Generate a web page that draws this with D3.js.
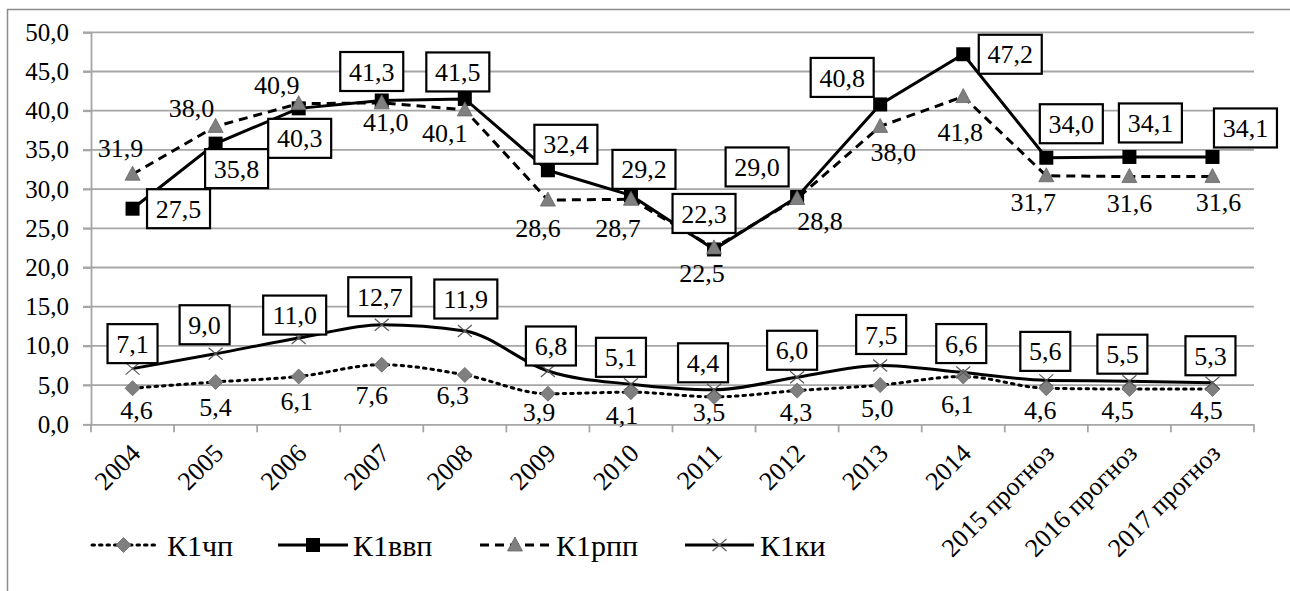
<!DOCTYPE html>
<html>
<head>
<meta charset="utf-8">
<script src="https://cdn.jsdelivr.net/npm/d3@7"></script>
</head>
<body style="margin:0;background:#fff">
<svg id="chart" width="1290" height="591" style="display:block"></svg>
<script>
// ---------- data ----------
const categories = ["2004","2005","2006","2007","2008","2009","2010","2011","2012","2013","2014","2015 прогноз","2016 прогноз","2017 прогноз"];
const seriesNames = ["К1чп","К1ввп","К1рпп","К1ки"];
const k1chp  = [4.6, 5.4, 6.1, 7.6, 6.3, 3.9, 4.1, 3.5, 4.3, 5.0, 6.1, 4.6, 4.5, 4.5];
const k1vvp  = [27.5, 35.8, 40.3, 41.3, 41.5, 32.4, 29.2, 22.3, 29.0, 40.8, 47.2, 34.0, 34.1, 34.1];
const k1rpp  = [31.9, 38.0, 40.9, 41.0, 40.1, 28.6, 28.7, 22.5, 28.8, 38.0, 41.8, 31.7, 31.6, 31.6];
const k1ki   = [7.1, 9.0, 11.0, 12.7, 11.9, 6.8, 5.1, 4.4, 6.0, 7.5, 6.6, 5.6, 5.5, 5.3];
const yTicks = [0, 5, 10, 15, 20, 25, 30, 35, 40, 45, 50];

// ---------- label placement (layout only) ----------
const offVvp = [[46,0],[21,25],[1,30],[-10,-29],[-7,-27],[18,-26],[13,-26],[-10,-36],[-40,-30],[-38,-27],[47,0],[25,-34],[21,-34],[33,-29]];
const offRpp = [[-12,-26],[-24,-18],[-22,-19],[4,19],[-20,23],[-10,28],[-13,29],[-12,25],[23,22],[13,26],[-3,35],[-13,26],[0,26],[6,25]];
const offKi  = [[0,-25],[-11,-29],[-4,-23],[-2,-28],[1,-32],[3,-25],[-10,-27],[-11,-27],[-5,-27],[1,-31],[-2,-29],[-1,-29],[-7,-27],[-2,-27]];
const offChp = [[4,22],[0,25],[-2,24],[-10,30],[-12,20],[-9,18],[-9,23],[-5,15],[-1,21],[-3,23],[-6,27],[-6,22],[-12,21],[-6,21]];

const FONT = '"Liberation Serif"';
const svg = d3.select("#chart").style("font-family", FONT);
const W = 1290, H = 591;
const plotL = 91, plotR = 1254, plotT = 32.3, plotB = 424.3;

svg.append("rect").attr("width", W).attr("height", H).attr("fill", "#fff");
svg.append("path").attr("d", `M7.5,${H+5} L7.5,9.5 L${W+5},9.5`).attr("fill", "none").attr("stroke", "#8c8c8c").attr("stroke-width", 1.5);

const x = d3.scaleBand().domain(categories).range([plotL, plotR]).padding(0);
const y = d3.scaleLinear().domain([0, 50]).range([plotB, plotT]);
const fmt = v => d3.format(".1f")(v).replace(".", ",");
const cx = c => x(c) + x.bandwidth() / 2;

// gridlines
svg.append("g").selectAll("line").data(yTicks.slice(1)).join("line")
  .attr("x1", plotL - 8).attr("x2", plotR)
  .attr("y1", d => y(d)).attr("y2", d => y(d))
  .attr("stroke", "#a6a6a6").attr("stroke-width", 1.8);

// y axis
const yAxis = svg.append("g").attr("transform", `translate(${plotL},0)`)
  .call(d3.axisLeft(y).tickValues(yTicks).tickSize(8).tickPadding(14).tickFormat(fmt));
yAxis.attr("font-family", null).attr("font-size", null);
yAxis.select(".domain").attr("stroke", "#a6a6a6").attr("stroke-width", 1.8);
yAxis.selectAll(".tick line").attr("stroke", "#a6a6a6").attr("stroke-width", 1.8);
yAxis.selectAll(".tick text").attr("fill", "#000").style("font-family", FONT).style("font-size", "25px");

// x axis
const xAxis = svg.append("g").attr("transform", `translate(0,${plotB})`)
  .call(d3.axisBottom(x).tickSize(0).tickFormat(""));
xAxis.select(".domain").attr("stroke", "#a6a6a6").attr("stroke-width", 1.8);
svg.append("g").selectAll("line").data(d3.range(categories.length + 1)).join("line")
  .attr("x1", i => plotL + i * x.bandwidth()).attr("x2", i => plotL + i * x.bandwidth())
  .attr("y1", plotB).attr("y2", plotB + 8)
  .attr("stroke", "#a6a6a6").attr("stroke-width", 1.8);
svg.append("g").selectAll("text").data(categories).join("text")
  .attr("transform", c => `translate(${cx(c) + 3},${plotB + 24}) rotate(-45)`)
  .attr("text-anchor", "end").attr("dy", "0.35em")
  .attr("fill", "#000")
  .style("font-family", FONT).style("font-size", "26px")
  .text(c => c);

// series definitions
const series = [
  {name: seriesNames[1], values: k1vvp, dash: null, curve: d3.curveLinear, marker: "square"},
  {name: seriesNames[2], values: k1rpp, dash: "9,6", curve: d3.curveLinear, marker: "triangle"},
  {name: seriesNames[0], values: k1chp, dash: "2.5,5", curve: d3.curveMonotoneX, marker: "diamond"},
  {name: seriesNames[3], values: k1ki, dash: null, curve: d3.curveMonotoneX, marker: "x"},
];

function drawMarker(g, type, px, py) {
  if (type === "square") {
    g.append("rect").attr("x", px - 7).attr("y", py - 7).attr("width", 14).attr("height", 14).attr("fill", "#000");
  } else if (type === "triangle") {
    g.append("path").attr("d", `M${px},${py - 8} L${px + 7.5},${py + 6} L${px - 7.5},${py + 6} Z`)
      .attr("fill", "#7f7f7f").attr("stroke", "#666").attr("stroke-width", 0.8);
  } else if (type === "diamond") {
    g.append("path").attr("d", `M${px},${py - 7.5} L${px + 7.5},${py} L${px},${py + 7.5} L${px - 7.5},${py} Z`)
      .attr("fill", "#7f7f7f").attr("stroke", "#666").attr("stroke-width", 0.8);
  } else if (type === "x") {
    g.append("path").attr("d", `M${px - 7},${py - 6} L${px + 7},${py + 6} M${px - 7},${py + 6} L${px + 7},${py - 6}`)
      .attr("stroke", "#595959").attr("stroke-width", 1.2).attr("fill", "none");
  }
}

const linesG = svg.append("g");
const marksG = svg.append("g");
series.forEach(s => {
  const line = d3.line().x((d, i) => cx(categories[i])).y(d => y(d)).curve(s.curve);
  linesG.append("path").attr("d", line(s.values))
    .attr("fill", "none").attr("stroke", "#000").attr("stroke-width", 3)
    .attr("stroke-dasharray", s.dash).attr("stroke-linecap", s.marker === "diamond" ? "round" : "butt");
  s.values.forEach((v, i) => drawMarker(marksG, s.marker, cx(categories[i]), y(v)));
});

// data labels
const labelsG = svg.append("g");
function addText(g, px, py, t, size, anchor) {
  return g.append("text").attr("x", px).attr("y", py).attr("dy", "0.35em")
    .attr("text-anchor", anchor || "middle").attr("fill", "#000")
    .style("font-family", FONT).style("font-size", size + "px").text(t);
}
function boxLabel(vals, offs) {
  vals.forEach((v, i) => {
    const px = cx(categories[i]) + offs[i][0], py = y(v) + offs[i][1];
    const t = fmt(v);
    const w = t.length === 3 ? 50 : 63;
    labelsG.append("rect").attr("x", px - w / 2).attr("y", py - 19.5).attr("width", w).attr("height", 39)
      .attr("fill", "#fff").attr("stroke", "#000").attr("stroke-width", 2.2);
    addText(labelsG, px, py, t, 26);
  });
}
function plainLabel(vals, offs) {
  vals.forEach((v, i) => addText(labelsG, cx(categories[i]) + offs[i][0], y(v) + offs[i][1], fmt(v), 26));
}
plainLabel(k1chp, offChp);
plainLabel(k1rpp, offRpp);
boxLabel(k1ki, offKi);
boxLabel(k1vvp, offVvp);

// legend
const legend = [
  {name: seriesNames[0], x1: 92, x2: 155, dash: "2.5,5", marker: "diamond", tx: 167},
  {name: seriesNames[1], x1: 278, x2: 348, dash: null, marker: "square", tx: 353},
  {name: seriesNames[2], x1: 480, x2: 550, dash: "9,6", marker: "triangle", tx: 556},
  {name: seriesNames[3], x1: 685, x2: 754, dash: null, marker: "x", tx: 760},
];
const legG = svg.append("g");
const ly = 545;
legend.forEach(l => {
  legG.append("line").attr("x1", l.x1).attr("x2", l.x2).attr("y1", ly).attr("y2", ly)
    .attr("stroke", "#000").attr("stroke-width", 3).attr("stroke-dasharray", l.dash)
    .attr("stroke-linecap", l.marker === "diamond" ? "round" : "butt");
  drawMarker(legG, l.marker, (l.x1 + l.x2) / 2, ly);
  addText(legG, l.tx, ly, l.name, 30, "start");
});
</script>
</body>
</html>
